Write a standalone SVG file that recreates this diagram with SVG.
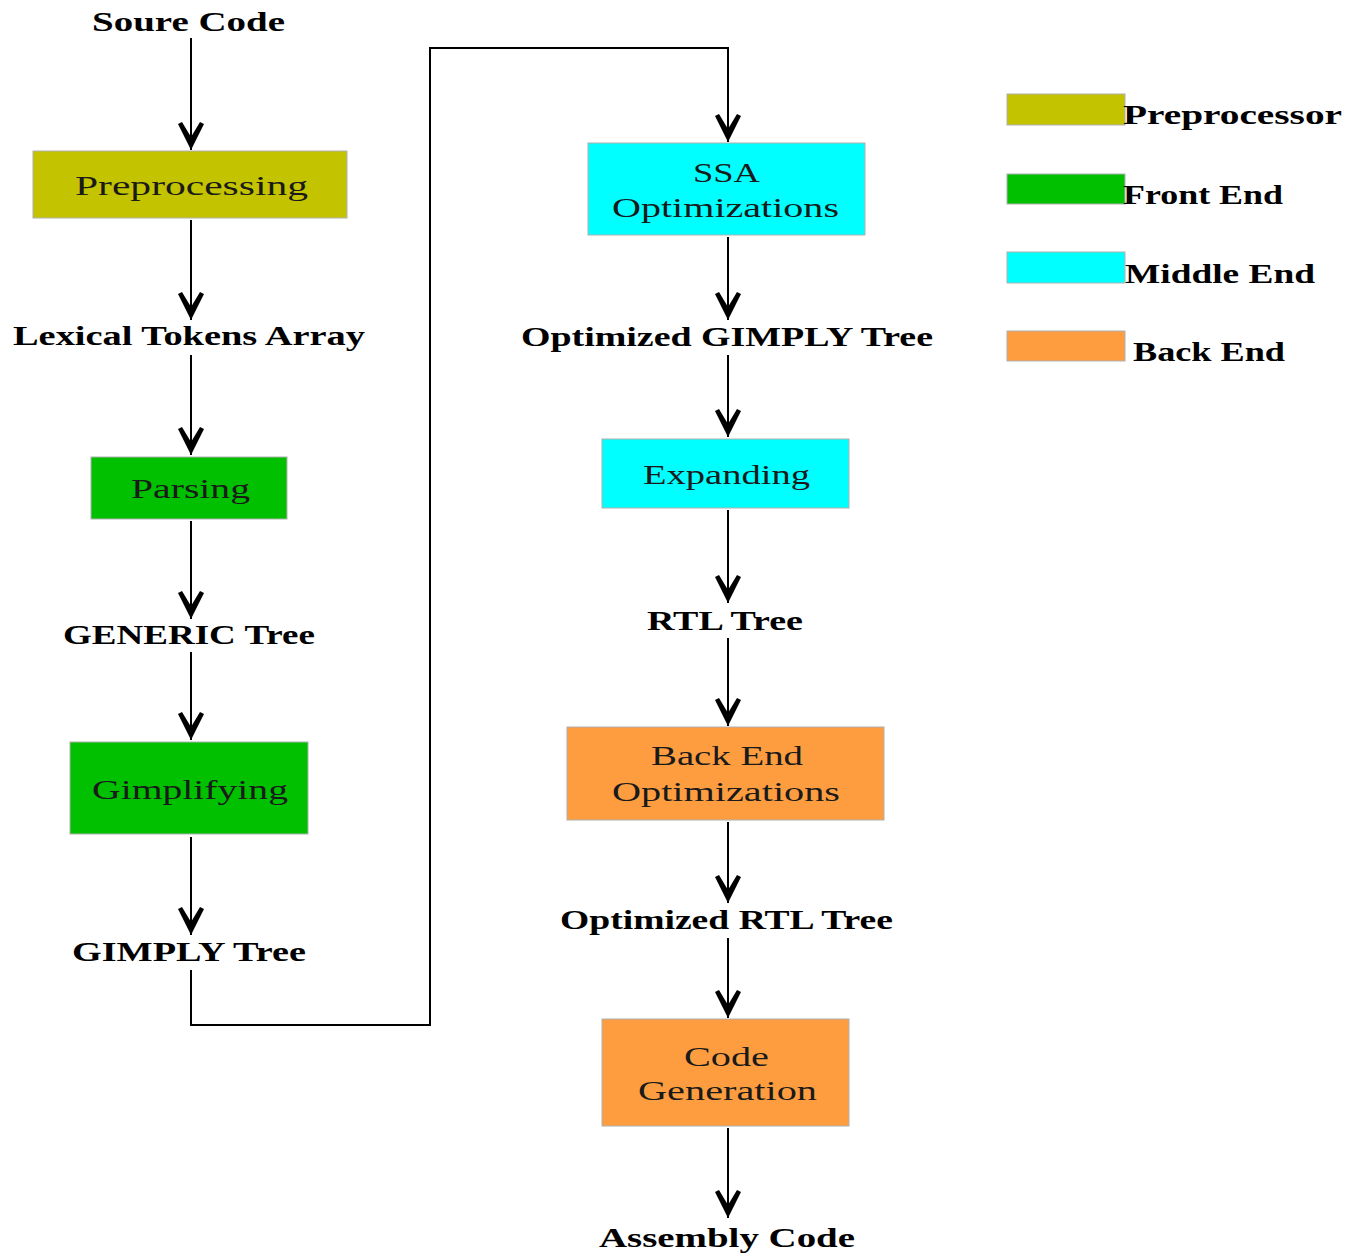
<svg xmlns="http://www.w3.org/2000/svg" width="1349" height="1256" viewBox="0 0 1349 1256">
<style>
.lbl{font-family:"Liberation Serif","Times New Roman",serif;font-weight:bold;font-size:27px;fill:#000}
.bt{font-family:"Liberation Serif","Times New Roman",serif;font-size:28px;fill:#1a1a1a}
.box{stroke:#b0b0b0;stroke-width:1}
.pre{fill:#c3c300}.fe{fill:#00c000}.me{fill:#00ffff}.be{fill:#fd9d40}
.cn{fill:none;stroke:#000;stroke-width:2}
</style>
<defs>
<marker id="ah" markerUnits="userSpaceOnUse" viewBox="-30 -16 32 32" markerWidth="32" markerHeight="32" refX="0" refY="0" orient="auto">
<path d="M0,0 L-26,-13 L-28,-9 L-13,0 L-28,9 L-26,13 Z M0,0 L-14,-5 L-14,5 Z" fill="#000"/>
</marker>
</defs>
<rect width="1349" height="1256" fill="#fff"/>
<g id="connectors">
<path class="cn" d="M191,38 V150" marker-end="url(#ah)"/>
<path class="cn" d="M191,220 V320" marker-end="url(#ah)"/>
<path class="cn" d="M191,355 V455" marker-end="url(#ah)"/>
<path class="cn" d="M191,521 V619" marker-end="url(#ah)"/>
<path class="cn" d="M191,652 V740" marker-end="url(#ah)"/>
<path class="cn" d="M191,837 V935" marker-end="url(#ah)"/>
<path class="cn" d="M191,970 V1025 H430 V48 H728 V142" marker-end="url(#ah)"/>
<path class="cn" d="M728,237 V320" marker-end="url(#ah)"/>
<path class="cn" d="M728,355 V437" marker-end="url(#ah)"/>
<path class="cn" d="M728,510 V603" marker-end="url(#ah)"/>
<path class="cn" d="M728,638 V726" marker-end="url(#ah)"/>
<path class="cn" d="M728,822 V903" marker-end="url(#ah)"/>
<path class="cn" d="M728,938 V1018" marker-end="url(#ah)"/>
<path class="cn" d="M728,1128 V1218" marker-end="url(#ah)"/>
</g>
<g id="source"><text class="lbl" x="92" y="31" textLength="193" lengthAdjust="spacingAndGlyphs">Soure Code</text></g>
<g id="preprocessing"><rect class="box pre" x="33" y="151" width="314" height="67"/><text class="bt" x="75" y="195" textLength="233" lengthAdjust="spacingAndGlyphs">Preprocessing</text></g>
<g id="lexical"><text class="lbl" x="13" y="345" textLength="352" lengthAdjust="spacingAndGlyphs">Lexical Tokens Array</text></g>
<g id="parsing"><rect class="box fe" x="91" y="457" width="196" height="62"/><text class="bt" x="131" y="498" textLength="119" lengthAdjust="spacingAndGlyphs">Parsing</text></g>
<g id="generic"><text class="lbl" x="63" y="644" textLength="252" lengthAdjust="spacingAndGlyphs">GENERIC Tree</text></g>
<g id="gimplifying"><rect class="box fe" x="70" y="742" width="238" height="92"/><text class="bt" x="92" y="799" textLength="196" lengthAdjust="spacingAndGlyphs">Gimplifying</text></g>
<g id="gimply"><text class="lbl" x="72" y="961" textLength="234" lengthAdjust="spacingAndGlyphs">GIMPLY Tree</text></g>
<g id="ssa"><rect class="box me" x="588" y="143" width="277" height="92"/><text class="bt" x="693" y="182" textLength="67" lengthAdjust="spacingAndGlyphs">SSA</text><text class="bt" x="612" y="217" textLength="227" lengthAdjust="spacingAndGlyphs">Optimizations</text></g>
<g id="optgimply"><text class="lbl" x="521" y="346" textLength="412" lengthAdjust="spacingAndGlyphs">Optimized GIMPLY Tree</text></g>
<g id="expanding"><rect class="box me" x="602" y="439" width="247" height="69"/><text class="bt" x="643" y="484" textLength="167" lengthAdjust="spacingAndGlyphs">Expanding</text></g>
<g id="rtl"><text class="lbl" x="647" y="630" textLength="156" lengthAdjust="spacingAndGlyphs">RTL Tree</text></g>
<g id="beopt"><rect class="box be" x="567" y="727" width="317" height="93"/><text class="bt" x="651" y="765" textLength="152" lengthAdjust="spacingAndGlyphs">Back End</text><text class="bt" x="612" y="801" textLength="228" lengthAdjust="spacingAndGlyphs">Optimizations</text></g>
<g id="optrtl"><text class="lbl" x="560" y="929" textLength="333" lengthAdjust="spacingAndGlyphs">Optimized RTL Tree</text></g>
<g id="codegen"><rect class="box be" x="602" y="1019" width="247" height="107"/><text class="bt" x="684" y="1066" textLength="85" lengthAdjust="spacingAndGlyphs">Code</text><text class="bt" x="638" y="1100" textLength="179" lengthAdjust="spacingAndGlyphs">Generation</text></g>
<g id="assembly"><text class="lbl" x="599" y="1247" textLength="256" lengthAdjust="spacingAndGlyphs">Assembly Code</text></g>
<g id="legend">
<rect class="box pre" x="1007" y="94" width="118" height="31"/><text class="lbl" x="1123" y="124" textLength="219" lengthAdjust="spacingAndGlyphs">Preprocessor</text>
<rect class="box fe" x="1007" y="174" width="118" height="30"/><text class="lbl" x="1123" y="204" textLength="160" lengthAdjust="spacingAndGlyphs">Front End</text>
<rect class="box me" x="1007" y="252" width="118" height="31"/><text class="lbl" x="1125" y="283" textLength="190" lengthAdjust="spacingAndGlyphs">Middle End</text>
<rect class="box be" x="1007" y="331" width="118" height="30"/><text class="lbl" x="1133" y="361" textLength="152" lengthAdjust="spacingAndGlyphs">Back End</text>
</g>
</svg>
